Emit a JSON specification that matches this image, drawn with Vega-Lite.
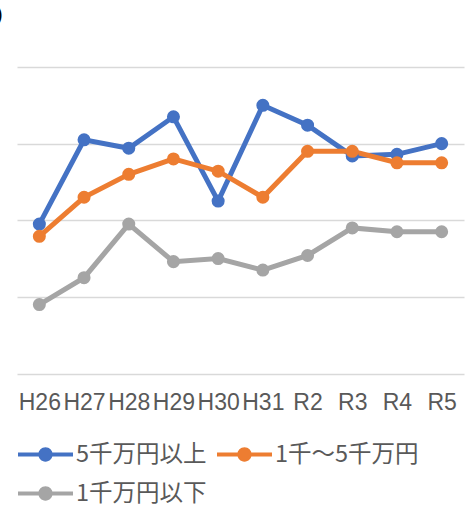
{
  "$schema": "https://vega.github.io/schema/vega-lite/v6.json",
  "width": 447,
  "height": 306.5,
  "autosize": {"type": "none"},
  "padding": {"left": 17, "top": 67, "right": 10, "bottom": 131.5},
  "background": "white",
  "view": {"stroke": null},
  "title": {"text": ")", "anchor": "start", "frame": "group", "dx": -21, "offset": 42, "fontSize": 20, "fontWeight": "normal", "color": "#000000", "font": "Liberation Sans"},
  "data": {"values": [
    {"year": "H26", "series": "5千万円以上", "value": 1.95},
    {"year": "H27", "series": "5千万円以上", "value": 3.05},
    {"year": "H28", "series": "5千万円以上", "value": 2.94},
    {"year": "H29", "series": "5千万円以上", "value": 3.35},
    {"year": "H30", "series": "5千万円以上", "value": 2.25},
    {"year": "H31", "series": "5千万円以上", "value": 3.5},
    {"year": "R2", "series": "5千万円以上", "value": 3.24},
    {"year": "R3", "series": "5千万円以上", "value": 2.84},
    {"year": "R4", "series": "5千万円以上", "value": 2.86},
    {"year": "R5", "series": "5千万円以上", "value": 3.0},
    {"year": "H26", "series": "1千～5千万円", "value": 1.79},
    {"year": "H27", "series": "1千～5千万円", "value": 2.3},
    {"year": "H28", "series": "1千～5千万円", "value": 2.6},
    {"year": "H29", "series": "1千～5千万円", "value": 2.8},
    {"year": "H30", "series": "1千～5千万円", "value": 2.64},
    {"year": "H31", "series": "1千～5千万円", "value": 2.3},
    {"year": "R2", "series": "1千～5千万円", "value": 2.9},
    {"year": "R3", "series": "1千～5千万円", "value": 2.9},
    {"year": "R4", "series": "1千～5千万円", "value": 2.75},
    {"year": "R5", "series": "1千～5千万円", "value": 2.75},
    {"year": "H26", "series": "1千万円以下", "value": 0.9},
    {"year": "H27", "series": "1千万円以下", "value": 1.25},
    {"year": "H28", "series": "1千万円以下", "value": 1.95},
    {"year": "H29", "series": "1千万円以下", "value": 1.46},
    {"year": "H30", "series": "1千万円以下", "value": 1.5},
    {"year": "H31", "series": "1千万円以下", "value": 1.35},
    {"year": "R2", "series": "1千万円以下", "value": 1.54},
    {"year": "R3", "series": "1千万円以下", "value": 1.9},
    {"year": "R4", "series": "1千万円以下", "value": 1.85},
    {"year": "R5", "series": "1千万円以下", "value": 1.85}
  ]},
  "encoding": {
    "x": {"field": "year", "type": "ordinal", "sort": null,
      "scale": {"type": "point", "padding": 0.5},
      "axis": {"title": null, "domain": false, "ticks": false, "labelAngle": 0, "labelOverlap": false, "labelPadding": 18, "labelFont": "Liberation Sans", "labelFontSize": 23, "labelColor": "#595959", "grid": false}},
    "y": {"field": "value", "type": "quantitative",
      "scale": {"domain": [0, 4], "nice": false, "zero": true},
      "axis": {"title": null, "labels": false, "ticks": false, "domain": false, "values": [0, 1, 2, 3, 4], "gridColor": "#D9D9D9", "gridWidth": 1.5}},
    "color": {"field": "series", "type": "nominal",
      "scale": {"domain": ["5千万円以上", "1千～5千万円", "1千万円以下"], "range": ["#4472C4", "#ED7D31", "#A5A5A5"]},
      "legend": {"title": null, "orient": "none", "legendX": 1, "legendY": 360, "direction": "horizontal", "columns": 2, "padding": 0, "columnPadding": 10, "rowPadding": -14,
        "labelFont": "Noto Sans CJK JP", "labelFontSize": 23.5, "labelColor": "#595959", "labelOffset": 3, "labelLimit": 300,
        "symbolType": "M-1,-0.07 L1,-0.07 L1,0.07 L-1,0.07 Z M-0.26,0 A0.26,0.26 0 1,1 0.26,0 A0.26,0.26 0 1,1 -0.26,0 Z",
        "symbolSize": 3025, "symbolStrokeWidth": 0,
        "encode": {"symbols": {"update": {"fill": {"scale": "color", "field": "value"}, "fillOpacity": {"value": 1}, "strokeWidth": {"value": 0}}}}}
    }
  },
  "layer": [
    {"mark": {"type": "line", "strokeWidth": 5}},
    {"mark": {"type": "point", "filled": true, "size": 170, "opacity": 1}}
  ]
}
